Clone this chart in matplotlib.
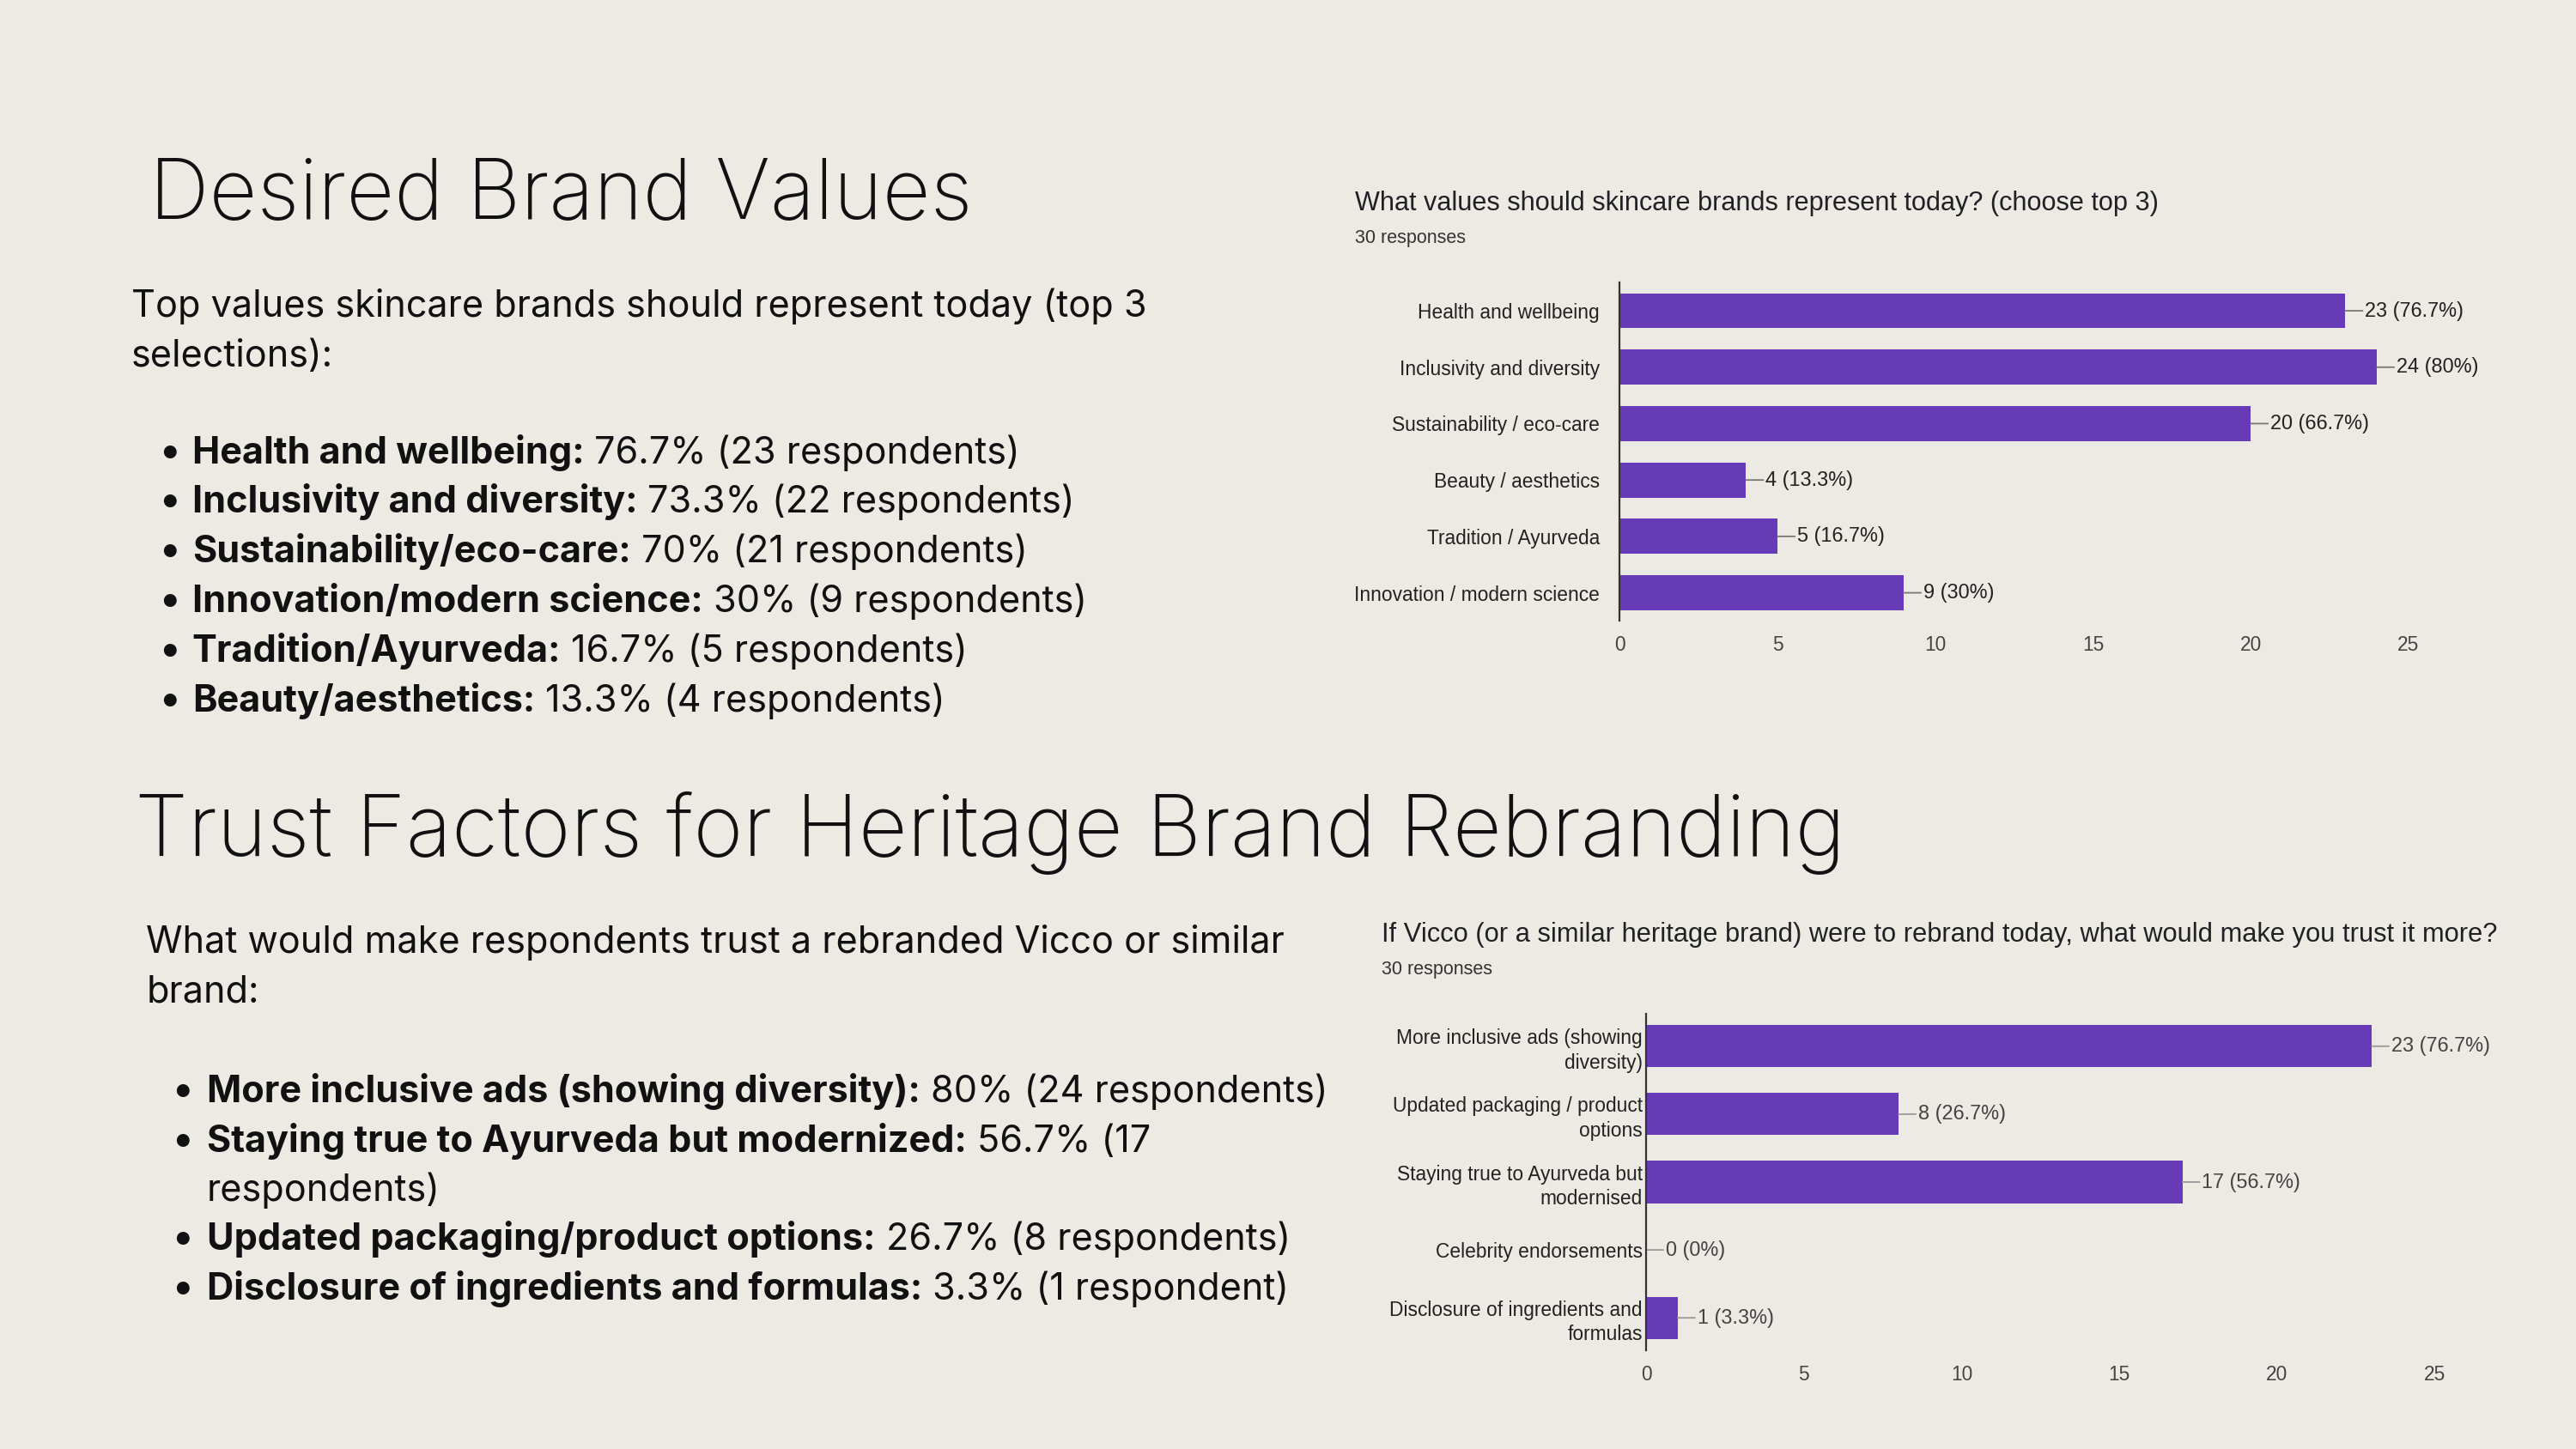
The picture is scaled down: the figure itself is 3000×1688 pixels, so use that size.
import matplotlib
matplotlib.use("Agg")
import matplotlib.pyplot as plt

# ---------------- data ----------------
values_title = "What values should skincare brands represent today? (choose top 3)"
values_categories = ["Health and wellbeing", "Inclusivity and diversity", "Sustainability / eco-care",
                     "Beauty / aesthetics", "Tradition / Ayurveda", "Innovation / modern science"]
values_counts = [23, 24, 20, 4, 5, 9]
values_labels = ["23 (76.7%)", "24 (80%)", "20 (66.7%)", "4 (13.3%)", "5 (16.7%)", "9 (30%)"]

trust_title = "If Vicco (or a similar heritage brand) were to rebrand today, what would make you trust it more?"
trust_categories = ["More inclusive ads (showing\ndiversity)", "Updated packaging / product\noptions",
                    "Staying true to Ayurveda but\nmodernised", "Celebrity endorsements",
                    "Disclosure of ingredients and\nformulas"]
trust_counts = [23, 8, 17, 0, 1]
trust_labels = ["23 (76.7%)", "8 (26.7%)", "17 (56.7%)", "0 (0%)", "1 (3.3%)"]

responses_text = "30 responses"
x_ticks = [0, 5, 10, 15, 20, 25]

heading1 = "Desired Brand Values"
intro1 = ["Top values skincare brands should represent today (top 3", "selections):"]
bullets1 = [("Health and wellbeing:", "76.7% (23 respondents)"),
            ("Inclusivity and diversity:", "73.3% (22 respondents)"),
            ("Sustainability/eco-care:", "70% (21 respondents)"),
            ("Innovation/modern science:", "30% (9 respondents)"),
            ("Tradition/Ayurveda:", "16.7% (5 respondents)"),
            ("Beauty/aesthetics:", "13.3% (4 respondents)")]

heading2 = "Trust Factors for Heritage Brand Rebranding"
intro2 = ["What would make respondents trust a rebranded Vicco or similar", "brand:"]
bullets2 = [("More inclusive ads (showing diversity):", "80% (24 respondents)", True),
            ("Staying true to Ayurveda but modernized:", "56.7% (17", True),
            ("", "respondents)", False),
            ("Updated packaging/product options:", "26.7% (8 respondents)", True),
            ("Disclosure of ingredients and formulas:", "3.3% (1 respondent)", True)]

# ---------------- style ----------------
W, H = 3000, 1688
DW, DH = 1568.0, 882.0
BG = "#EDEAE4"
PURPLE = "#673AB7"
BODY_FONT = ["Inter", "DejaVu Sans"]
CHART_FONT = ["Liberation Sans", "Arial", "DejaVu Sans"]
INK = "#111111"

def fx(x):
    return x / DW

def fy(y):
    return 1 - y / DH

fig = plt.figure(figsize=(W / 100, H / 100), dpi=100, facecolor=BG)
renderer = fig.canvas.get_renderer()

def width_px(t):
    return t.get_window_extent(renderer).width

def fit(t, target_display_px):
    target = target_display_px * W / DW
    for _ in range(2):
        t.set_fontsize(t.get_fontsize() * target / width_px(t))

# headings
h1 = fig.text(fx(91), fy(133), heading1, fontsize=70, family=BODY_FONT, weight="light",
              color=INK, va="baseline")
fit(h1, 501)
h2 = fig.text(fx(82), fy(521), heading2, fontsize=70, family=BODY_FONT, weight="light",
              color=INK, va="baseline")
fit(h2, 1043)

# body size from first intro line
probe = fig.text(fx(80), fy(193), intro1[0], fontsize=30, family=BODY_FONT, color=INK, va="baseline")
fit(probe, 618)
BODY_SIZE = probe.get_fontsize()
fig.text(fx(80), fy(223), intro1[1], fontsize=BODY_SIZE, family=BODY_FONT, color=INK, va="baseline")

def bullet_block(items, dot_x, text_x, base_y, step):
    gap = BODY_SIZE * 100 / 72 * 0.28 / W
    for i, item in enumerate(items):
        if len(item) == 3:
            bold, regular, has_dot = item
        else:
            bold, regular = item
            has_dot = True
        yb = fy(base_y + i * step)
        if has_dot:
            fig.text(fx(dot_x), yb, "\u2022", fontsize=BODY_SIZE * 1.1, family=BODY_FONT, color=INK,
                     va="baseline", ha="center")
        x = fx(text_x)
        if bold:
            tb = fig.text(x, yb, bold, fontsize=BODY_SIZE, family=BODY_FONT, weight="bold",
                          color=INK, va="baseline")
            x = x + width_px(tb) / W + gap
        fig.text(x, yb, regular, fontsize=BODY_SIZE, family=BODY_FONT, color=INK, va="baseline")

bullet_block(bullets1, 103, 117, 282, 30.2)

fig.text(fx(89), fy(580), intro2[0], fontsize=BODY_SIZE, family=BODY_FONT, color=INK, va="baseline")
fig.text(fx(89), fy(610), intro2[1], fontsize=BODY_SIZE, family=BODY_FONT, color=INK, va="baseline")
bullet_block(bullets2, 111, 126, 671, 30.0)

# ---------------- charts ----------------
LABEL_SIZE = 16.4
VALUE_SIZE = 16.9

def chart(rect, cats, counts, labels, title, title_xy, title_w, resp_xy, ypad, ylim, line_color, val_color):
    ax = fig.add_axes(rect)
    ax.set_facecolor("none")
    pos = list(range(len(cats)))
    ax.barh(pos, counts, height=0.62, color=PURPLE, zorder=2)
    ax.set_xlim(0, 25)
    ax.set_ylim(*ylim)
    ax.set_xticks(x_ticks)
    ax.set_xticklabels([str(v) for v in x_ticks])
    ax.set_yticks(pos)
    ax.set_yticklabels(cats, linespacing=1.3)
    ax.tick_params(axis="x", length=0, pad=12, labelsize=LABEL_SIZE, labelcolor="#444444")
    ax.tick_params(axis="y", length=0, pad=ypad, labelsize=LABEL_SIZE, labelcolor="#222222")
    for lab in ax.get_xticklabels() + ax.get_yticklabels():
        lab.set_family(CHART_FONT)
    for s in ["top", "right", "bottom"]:
        ax.spines[s].set_visible(False)
    ax.spines["left"].set_color("#333333")
    ax.spines["left"].set_linewidth(1.6)
    ax.spines["left"].set_zorder(3)
    for p, v, lab in zip(pos, counts, labels):
        ax.annotate(lab, xy=(v, p), xytext=(16.5, 0), textcoords="offset points",
                    va="center", ha="left", fontsize=VALUE_SIZE, color=val_color,
                    family=CHART_FONT,
                    arrowprops=dict(arrowstyle="-", color=line_color, lw=1.3,
                                    shrinkA=0, shrinkB=0))
    t = fig.text(fx(title_xy[0]), fy(title_xy[1]), title, fontsize=21, family=CHART_FONT,
                 color="#202124", va="baseline")
    fit(t, title_w)
    fig.text(fx(resp_xy[0]), fy(resp_xy[1]), responses_text, fontsize=15.5, family=CHART_FONT,
             color="#333333", va="baseline")
    return ax

chart([fx(986), fy(378), fx(1466) - fx(986), fy(172) - fy(378)],
      values_categories, values_counts, values_labels, values_title,
      (825, 128), 489, (825, 148), 17, (5.5, -0.5), "#777777", "#222222")

chart([fx(1002), fy(822), fx(1482) - fx(1002), fy(617) - fy(822)],
      trust_categories, trust_counts, trust_labels, trust_title,
      (841, 573), 679, (841, 593), 3, (4.48, -0.48), "#999999", "#444444")

fig.savefig("out.png", dpi=100, facecolor=BG)
